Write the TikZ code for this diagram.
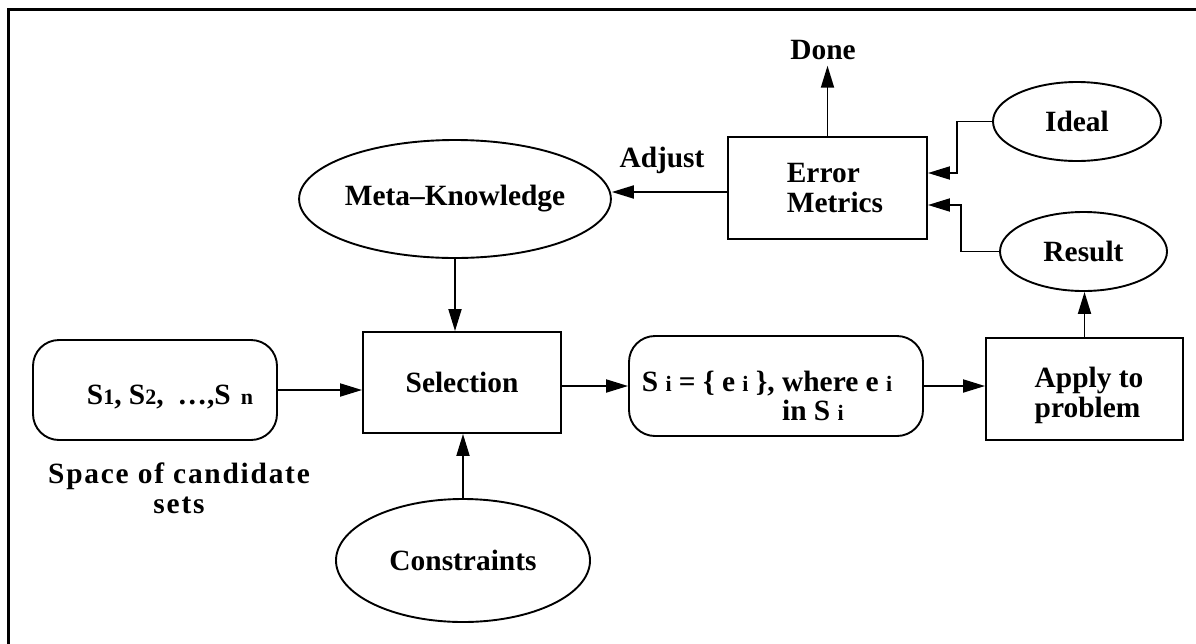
\documentclass[tikz,border=0pt]{standalone}
\usepackage{fontspec}
\setmainfont{Liberation Serif}
\usetikzlibrary{arrows.meta,shapes.geometric}
% small index letters set on the baseline
\newcommand\subidx[1]{{\fontsize{22}{22}\selectfont #1}}
\begin{document}
\begin{tikzpicture}[x={(1pt,0pt)}, y={(0pt,-1pt)},
  font=\fontsize{29.4}{30}\selectfont\bfseries, line width=1.9pt,
  arr/.style={-{Triangle[length=22pt,width=13pt]}},
  box/.style={draw, rectangle, inner sep=0pt},
  oval/.style={draw, ellipse, inner sep=0pt},
  rbox/.style={draw, rectangle, rounded corners=26pt, inner sep=0pt}]
\useasboundingbox (0,0) rectangle (1196,643);
% frame
\draw[line width=3pt] (8,660) -- (8,9) -- (1210,9);

% nodes
\node[oval, minimum width=256pt, minimum height=118pt] (meta) at (455,199) {Meta–Knowledge};
\node[box, minimum width=198pt, minimum height=101pt] (sel) at (462,382.5) {Selection};
\node[oval, minimum width=254pt, minimum height=123pt] (cons) at (463,560.5) {Constraints};

\node[rbox, minimum width=244pt, minimum height=100pt] (cand) at (155,390) {};
\node (candtxt) at (170,397) {S\subidx{1}, S\subidx{2},\hspace{14pt}…,S\hspace{10pt}\subidx{n}};
\node[align=center, font=\fontsize{29.4}{30}\selectfont\bfseries\addfontfeature{LetterSpace=6}] (space) at (179,488) {Space of candidate\\sets};

\node[rbox, minimum width=294pt, minimum height=100pt] (si) at (776,386) {};
\node (sitxt) at (767,400) {\def\arraystretch{0.9}\begin{tabular}{@{}r@{}l@{}}
  S \subidx{i} = \{ e \subidx{i} \},~ & where e \subidx{i}\\
  & in S \subidx{i}
\end{tabular}};

\node[box, minimum width=197pt, minimum height=102pt] (apply) at (1084.5,389) {};
\node[align=left] (applytxt) at (1089,395) {Apply to\\problem};

\node[box, minimum width=199pt, minimum height=102pt] (err) at (827.5,188) {};
\node[align=left] (errtxt) at (835,188) {Error\\Metrics};

\node[oval, minimum width=168pt, minimum height=79pt] (ideal) at (1077,121.5) {Ideal};
\node[oval, minimum width=167pt, minimum height=79pt] (result) at (1083.5,251.5) {Result};
\node[inner sep=5pt] (done) at (823,50) {Done};
\node (adjust) at (662,160) {Adjust};

% connectors
\draw[arr] (meta.south) -- (meta.south |- sel.north);
\draw[arr] (cons.north) -- (cons.north |- sel.south);
\draw[arr] (cand.east) -- (cand.east -| sel.west);
\draw[arr] (si.west -| sel.east) -- (si.west);
\draw[arr] (si.east) -- (si.east -| apply.west);
\draw[arr] (apply.north) -- (apply.north |- result.south);
\draw[arr] (err.north) -- (err.north |- done.south);
\draw[arr] ([yshift=-4pt]err.west) -- ([yshift=-4pt]err.west -| meta.east);
\draw[arr] (ideal.west) -- ++(-35,0) |- ([yshift=15pt]err.east);
\draw[arr] (result.west) -- ++(-38,0) |- ([yshift=-17pt]err.east);
\end{tikzpicture}
\end{document}
